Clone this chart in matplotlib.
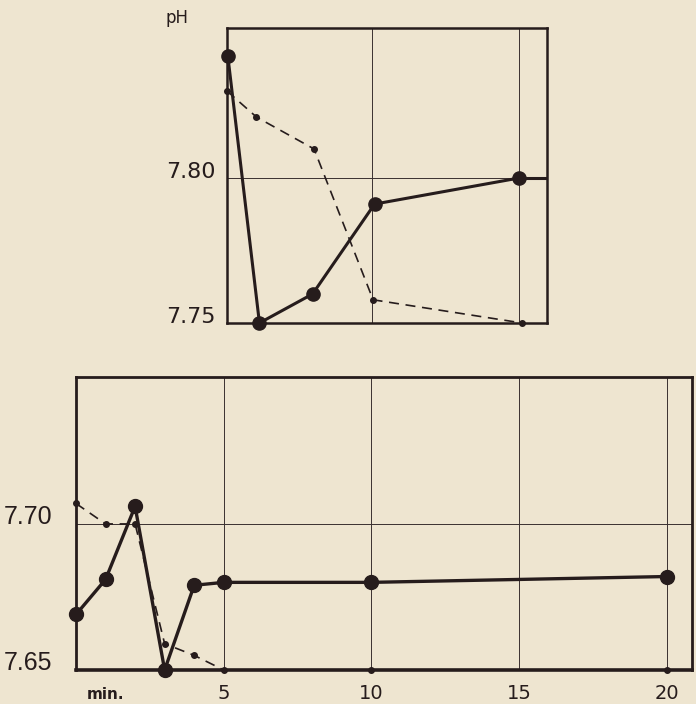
import matplotlib
matplotlib.use("Agg")
import matplotlib.pyplot as plt
import matplotlib.transforms as mtransforms

# lower panel (minutes, pH)
low_t_solid = [0, 1, 2, 3, 4, 5, 10, 20]
low_ph_solid = [7.669, 7.681, 7.706, 7.650, 7.679, 7.680, 7.680, 7.682]
low_t_dash = [0, 1, 2, 3, 4, 5, 10, 20]
low_ph_dash = [7.707, 7.700, 7.700, 7.659, 7.655, 7.650, 7.650, 7.650]

# upper panel
up_t_solid = [5.13, 6.2, 8.0, 10.1, 15.0]
up_ph_solid = [7.842, 7.750, 7.760, 7.791, 7.800]
up_t_dash = [5.1, 6.1, 8.05, 10.05, 15.1]
up_ph_dash = [7.830, 7.821, 7.810, 7.758, 7.750]

x_ticks = [5, 10, 15, 20]
x_labels = ["5", "10", "15", "20"]

bg = "#eee5d0"
ink = "#261c1c"

fig = plt.figure(figsize=(6.96, 7.04), dpi=100, facecolor=bg)

def style(ax, lw_frame):
    ax.set_facecolor(bg)
    for s in ax.spines.values():
        s.set_color(ink)
        s.set_linewidth(lw_frame)
    ax.tick_params(length=0, colors=ink)
    ax.grid(True, color="#3a3030", linewidth=0.7)
    ax.set_axisbelow(True)

# ---- upper panel
ax1 = fig.add_axes([0.3261, 0.5412, 0.4598, 0.419])
style(ax1, 1.8)
ax1.set_xlim(5.1, 15.94)
ax1.set_ylim(7.75, 7.8517)
ax1.set_xticks([10, 15])
ax1.set_xticklabels([])
ax1.set_yticks([7.75, 7.80])
ax1.set_yticklabels(["7.75", "7.80"], fontsize=16, color=ink, family="DejaVu Sans")
ax1.tick_params(axis="y", pad=8)
off = mtransforms.ScaledTranslation(0, 8 / 100, fig.dpi_scale_trans)
for lbl in ax1.get_yticklabels():
    lbl.set_transform(lbl.get_transform() + off)

ax1.plot(up_t_dash, up_ph_dash, color=ink, lw=1.2, dashes=(6, 4),
         marker="o", ms=4, clip_on=False, zorder=3)
ax1.plot(up_t_solid, up_ph_solid, color=ink, lw=2.2,
         marker="o", ms=9.5, clip_on=False, zorder=4)
ax1.plot([up_t_solid[-1], ax1.get_xlim()[1]], [up_ph_solid[-1]] * 2,
         color=ink, lw=2.2, zorder=4)
fig.text(177 / 696, 1 - 18 / 704, "pH", fontsize=12, color=ink,
         ha="center", va="center")

# ---- lower panel
ax2 = fig.add_axes([0.1092, 0.0483, 0.8851, 0.4162])
style(ax2, 2.0)
ax2.spines["bottom"].set_linewidth(2.6)
ax2.set_xlim(0, 20.85)
ax2.set_ylim(7.65, 7.7503)
ax2.set_xticks(x_ticks)
ax2.set_xticklabels(x_labels, fontsize=14, color=ink)
ax2.tick_params(axis="x", pad=10)
ax2.set_yticks([7.65, 7.70])
ax2.set_yticklabels(["7.65", "7.70"], fontsize=18, color=ink,
                    family=["Liberation Sans", "DejaVu Sans"])
ax2.tick_params(axis="y", pad=17)
off2 = mtransforms.ScaledTranslation(0, 9 / 100, fig.dpi_scale_trans)
for lbl in ax2.get_yticklabels():
    lbl.set_transform(lbl.get_transform() + off2)
ax2.text(1.0, -0.085, "min.", transform=ax2.get_xaxis_transform(),
         fontsize=11, color=ink, ha="center", va="center", fontweight="bold")

ax2.plot(low_t_dash, low_ph_dash, color=ink, lw=1.2, dashes=(6, 4),
         marker="o", ms=4, clip_on=False, zorder=3)
ax2.plot(low_t_solid, low_ph_solid, color=ink, lw=2.4,
         marker="o", ms=10, clip_on=False, zorder=4)

fig.savefig("out.png", dpi=100, facecolor=bg)
